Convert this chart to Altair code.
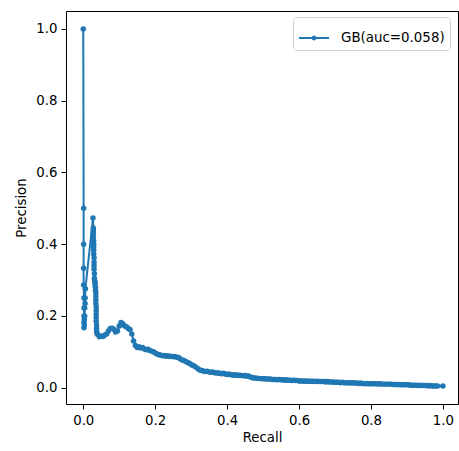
import altair as alt
import pandas as pd

LABEL = "GB(auc=0.058)"

# spike at recall ~ 0
R_SPIKE = [0.000, 0.001, 0.001, 0.001, 0.001, 0.002, 0.002, 0.002, 0.002, 0.002,
           0.003, 0.003, 0.004, 0.004, 0.005, 0.005, 0.006]
P_SPIKE = [1.000, 0.500, 0.400, 0.333, 0.286, 0.250, 0.222, 0.200, 0.182, 0.167,
           0.175, 0.190, 0.200, 0.222, 0.235, 0.250, 0.276]

# second peak near recall 0.03
R_PEAK = [0.027, 0.028, 0.028, 0.028, 0.028, 0.029, 0.029, 0.029, 0.029, 0.029,
          0.030, 0.030, 0.030, 0.030, 0.031, 0.031, 0.032, 0.033, 0.033, 0.034,
          0.034, 0.035, 0.035, 0.035, 0.035, 0.036, 0.036, 0.036, 0.036, 0.036,
          0.037, 0.037, 0.037, 0.038]
P_PEAK = [0.473, 0.445, 0.438, 0.430, 0.420, 0.410, 0.400, 0.392, 0.383, 0.372,
          0.362, 0.350, 0.340, 0.330, 0.318, 0.305, 0.297, 0.292, 0.285, 0.280,
          0.272, 0.265, 0.255, 0.245, 0.235, 0.225, 0.215, 0.205, 0.195, 0.185,
          0.175, 0.165, 0.158, 0.152]

# long tail
R_TAIL = [0.040, 0.045, 0.050, 0.055, 0.060, 0.065, 0.070, 0.075, 0.080, 0.085,
          0.090, 0.095, 0.100, 0.105, 0.110, 0.115, 0.120, 0.125, 0.130, 0.135,
          0.140, 0.145, 0.150, 0.155, 0.160, 0.165, 0.170, 0.175, 0.180, 0.185,
          0.190, 0.195, 0.200, 0.205, 0.210, 0.215, 0.220, 0.225, 0.230, 0.235,
          0.240, 0.245, 0.250, 0.255, 0.260, 0.265, 0.270, 0.275, 0.280, 0.285,
          0.290, 0.295, 0.300, 0.305, 0.310, 0.315, 0.320, 0.325, 0.330, 0.335,
          0.340, 0.345, 0.350, 0.355, 0.360, 0.365, 0.370, 0.375, 0.380, 0.385,
          0.390, 0.395, 0.400, 0.405, 0.410, 0.415, 0.420, 0.425, 0.430, 0.435,
          0.440, 0.445, 0.450, 0.455, 0.460, 0.465, 0.470, 0.475, 0.480, 0.485,
          0.490, 0.495, 0.500, 0.505, 0.510, 0.515, 0.520, 0.525, 0.530, 0.535,
          0.540, 0.545, 0.550, 0.555, 0.560, 0.565, 0.570, 0.575, 0.580, 0.585,
          0.590, 0.595, 0.600, 0.605, 0.610, 0.615, 0.620, 0.625, 0.630, 0.635,
          0.640, 0.645, 0.650, 0.655, 0.660, 0.665, 0.670, 0.675, 0.680, 0.685,
          0.690, 0.695, 0.700, 0.705, 0.710, 0.715, 0.720, 0.725, 0.730, 0.735,
          0.740, 0.745, 0.750, 0.755, 0.760, 0.765, 0.770, 0.775, 0.780, 0.785,
          0.790, 0.795, 0.800, 0.805, 0.810, 0.815, 0.820, 0.825, 0.830, 0.835,
          0.840, 0.845, 0.850, 0.855, 0.860, 0.865, 0.870, 0.875, 0.880, 0.885,
          0.890, 0.895, 0.900, 0.905, 0.910, 0.915, 0.920, 0.925, 0.930, 0.935,
          0.940, 0.945, 0.950, 0.955, 0.960, 0.965, 0.970, 0.975, 0.980, 0.985,
          1.000]
P_TAIL = [0.148, 0.142, 0.144, 0.143, 0.147, 0.150, 0.158, 0.165, 0.166, 0.163,
          0.155, 0.158, 0.172, 0.182, 0.178, 0.172, 0.170, 0.165, 0.162, 0.150,
          0.130, 0.118, 0.112, 0.114, 0.111, 0.112, 0.108, 0.106, 0.107, 0.104,
          0.102, 0.100, 0.097, 0.094, 0.092, 0.091, 0.089, 0.090, 0.088, 0.089,
          0.087, 0.088, 0.086, 0.087, 0.085, 0.084, 0.080, 0.077, 0.076, 0.073,
          0.070, 0.068, 0.065, 0.062, 0.060, 0.056, 0.052, 0.049, 0.048, 0.046,
          0.045, 0.046, 0.044, 0.043, 0.044, 0.042, 0.041, 0.041, 0.040, 0.039,
          0.040, 0.038, 0.037, 0.038, 0.036, 0.036, 0.035, 0.036, 0.034, 0.035,
          0.034, 0.033, 0.034, 0.032, 0.033, 0.030, 0.028, 0.027, 0.027, 0.026,
          0.026, 0.025, 0.025, 0.025, 0.024, 0.024, 0.024, 0.023, 0.023, 0.023,
          0.022, 0.023, 0.022, 0.022, 0.021, 0.022, 0.021, 0.021, 0.020, 0.021,
          0.020, 0.020, 0.019, 0.019, 0.019, 0.018, 0.019, 0.018, 0.018, 0.018,
          0.018, 0.017, 0.018, 0.017, 0.017, 0.017, 0.017, 0.016, 0.017, 0.016,
          0.016, 0.016, 0.015, 0.015, 0.015, 0.014, 0.015, 0.014, 0.014, 0.014,
          0.013, 0.014, 0.013, 0.013, 0.013, 0.012, 0.013, 0.012, 0.012, 0.011,
          0.012, 0.011, 0.011, 0.011, 0.011, 0.011, 0.010, 0.011, 0.010, 0.010,
          0.010, 0.010, 0.010, 0.010, 0.009, 0.009, 0.009, 0.008, 0.009, 0.008,
          0.008, 0.008, 0.008, 0.008, 0.007, 0.007, 0.007, 0.007, 0.006, 0.007,
          0.006, 0.006, 0.006, 0.006, 0.005, 0.006, 0.005, 0.005, 0.005, 0.005,
          0.005]

recall = R_SPIKE + R_PEAK + R_TAIL
precision = P_SPIKE + P_PEAK + P_TAIL
df = pd.DataFrame({
    "Recall": recall,
    "Precision": precision,
    "idx": list(range(len(recall))),
    "model": [LABEL] * len(recall),
})

FONT = "DejaVu Sans"
BLUE = "#1f77b4"
SYMBOL = "M-1,0L1,0M-0.1,0A0.1,0.1,0,1,0,0.1,0A0.1,0.1,0,1,0,-0.1,0Z"

chart = alt.Chart(df).mark_line(
    strokeWidth=2,
    point=alt.OverlayMarkDef(filled=True, size=30, opacity=1),
).encode(
    x=alt.X("Recall:Q",
            scale=alt.Scale(domain=[-0.048, 1.042], nice=False, zero=False),
            axis=alt.Axis(values=[0, 0.2, 0.4, 0.6, 0.8, 1.0], format=".1f",
                          title="Recall")),
    y=alt.Y("Precision:Q",
            scale=alt.Scale(domain=[-0.0454, 1.050], nice=False, zero=False),
            axis=alt.Axis(values=[0, 0.2, 0.4, 0.6, 0.8, 1.0], format=".1f",
                          title="Precision")),
    order=alt.Order("idx:Q"),
    color=alt.Color("model:N", scale=alt.Scale(range=[BLUE]),
                    legend=alt.Legend(
                        title=None, orient="none", legendX=227, legendY=6,
                        symbolType=SYMBOL, symbolSize=900, symbolStrokeWidth=2,
                        symbolFillColor=BLUE, symbolStrokeColor=BLUE,
                        labelFont=FONT, labelFontSize=13.4, labelColor="#000000",
                        labelOffset=11, strokeColor="#d0d0d0", fillColor="#ffffff",
                        cornerRadius=3, padding=5)),
).properties(
    width=392, height=393,
    autosize=alt.AutoSizeParams(type="none"),
    padding={"left": 66, "top": 11, "right": 1, "bottom": 47},
).configure_view(
    stroke="#000000", strokeWidth=1,
).configure_axis(
    grid=False, domain=False,
    tickColor="#000000", tickSize=5, tickWidth=1,
    labelFont=FONT, labelFontSize=13.3, labelColor="#000000", labelPadding=4,
    titleFont=FONT, titleFontSize=13.3, titleColor="#000000", titleFontWeight="normal",
).configure_axisX(
    titlePadding=4,
).configure_axisY(
    titlePadding=7,
)

chart.save("out.html", embed_options={"renderer": "svg", "actions": False})
